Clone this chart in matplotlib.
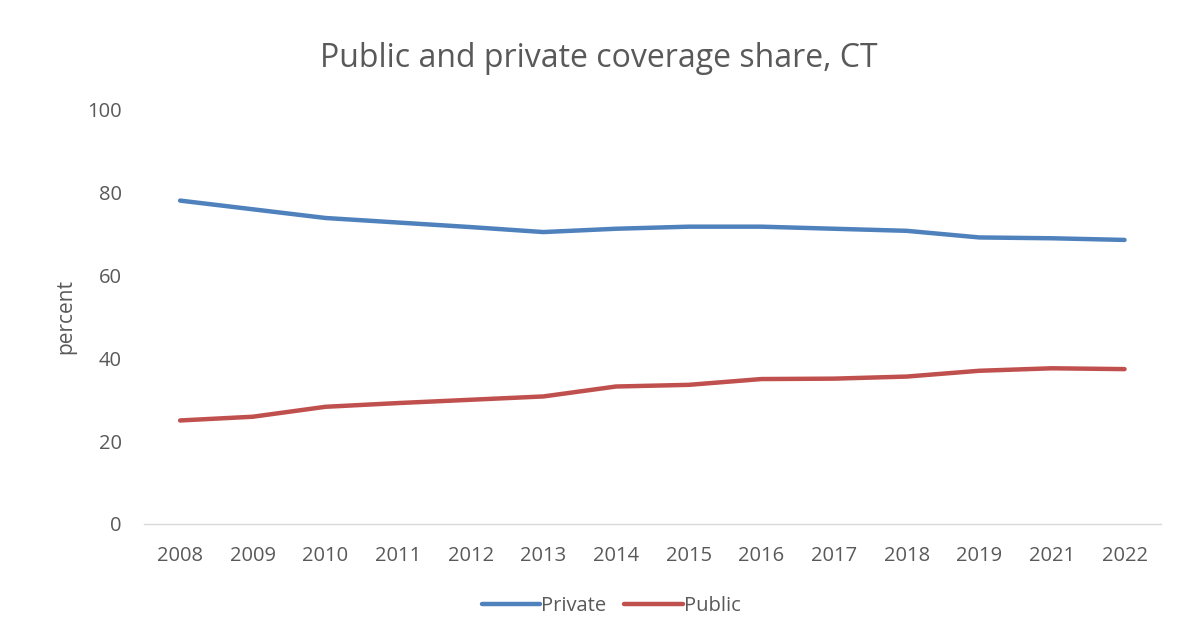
import matplotlib
matplotlib.use('Agg')
from matplotlib import pyplot as plt
import numpy as np

years = ['2008', '2009', '2010', '2011', '2012', '2013', '2014',
         '2015', '2016', '2017', '2018', '2019', '2021', '2022']
private = [78.1, 76.0, 73.9, 72.8, 71.7, 70.5, 71.3,
           71.8, 71.8, 71.3, 70.8, 69.2, 69.0, 68.6]
public = [25.0, 25.9, 28.3, 29.2, 30.0, 30.8, 33.2,
          33.6, 35.0, 35.1, 35.6, 37.0, 37.6, 37.4]

plt.rcParams['font.family'] = ['Open Sans', 'DejaVu Sans']
gray = '#595959'

fig = plt.figure(figsize=(11.98, 6.39), dpi=100)
ax = fig.add_axes([0.120, 0.180, 0.849, 0.648])

x = np.arange(len(years))
ax.plot(x, private, color='#4F81BD', lw=3.2, solid_capstyle='round', label='Private')
ax.plot(x, public, color='#C0504D', lw=3.2, solid_capstyle='round', label='Public')

ax.set_xlim(-0.5, len(years) - 0.5)
ax.set_ylim(0, 100)
ax.set_xticks(x)
ax.set_xticklabels(years)
ax.set_yticks(range(0, 101, 20))
ax.tick_params(length=0, labelsize=14.5, labelcolor=gray)
ax.tick_params(axis='x', pad=16)
ax.tick_params(axis='y', pad=16)

for s in ['top', 'right', 'left']:
    ax.spines[s].set_visible(False)
ax.spines['bottom'].set_color('#d9d9d9')
ax.spines['bottom'].set_linewidth(1)

ax.set_ylabel('percent', fontsize=15, color=gray, labelpad=8)
fig.suptitle('Public and private coverage share, CT', fontsize=23, color=gray, y=0.935)

fig.legend(loc='center', bbox_to_anchor=(0.51, 0.052), ncol=2, frameon=False,
           fontsize=14.5, labelcolor=gray, handlelength=2.9, handletextpad=0.05,
           columnspacing=0.9)

plt.savefig('out.png', dpi=100)
